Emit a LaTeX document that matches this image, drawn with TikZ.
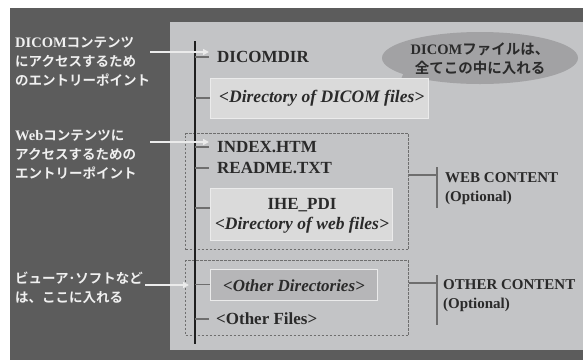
\documentclass[tikz,border=0pt]{standalone}
\usepackage{fontspec}
\setmainfont{Liberation Serif}
\newfontfamily\jp{Noto Sans CJK JP}[BoldFont={Noto Sans CJK JP Bold}]
\newcommand{\lat}[1]{{\rmfamily\bfseries\fontsize{14.5}{19}\selectfont #1}}
\usetikzlibrary{arrows.meta,shapes.geometric}
\definecolor{darkbg}{HTML}{5C5C5C}
\definecolor{panel}{HTML}{C3C4C6}
\definecolor{lightbox}{HTML}{DADADA}
\definecolor{otherbox}{HTML}{B6B6B8}
\definecolor{bubble}{HTML}{A2A2A4}
\definecolor{treetext}{HTML}{2A2A2A}
\definecolor{tick}{HTML}{6E6E6E}
\tikzset{
  lefttext/.style={anchor=north west, align=left, text=white!94!black, font=\jp\bfseries\fontsize{13.5}{19}\selectfont, inner sep=0pt},
  treeitem/.style={anchor=west, text=treetext, font=\bfseries\fontsize{17}{18}\selectfont, inner sep=0pt},
  itemital/.style={treeitem, font=\bfseries\itshape\fontsize{17.5}{18}\selectfont},
  dirbox/.style={fill=lightbox, draw=white!92!black, line width=0.6pt, inner sep=0pt},
  groupbox/.style={draw=tick, dashed, dash pattern=on 2.5pt off 1.5pt, line width=1pt},
  ticker/.style={draw=tick, line width=1.2pt},
  pointer/.style={draw=white!92!black, line width=1.6pt, -{Triangle[length=6pt,width=6pt]}},
  grouplabel/.style={anchor=north west, align=left, text=treetext, font=\bfseries\fontsize{15}{19}\selectfont, inner sep=0pt}
}
\begin{document}
\begin{tikzpicture}[x=1pt,y=-1pt]
\useasboundingbox (0,0) rectangle (583,360);
\fill[white] (0,0) rectangle (583,360);
\fill[darkbg] (10,8) rectangle (583,360);
\fill[panel] (170,22) rectangle (583,350);

% speech bubble
\coordinate (tail) at (398,86);
\fill[bubble] (405,70) -- (tail) -- (425,78) -- cycle;
\node[ellipse, fill=bubble, minimum width=196pt, minimum height=52pt, inner sep=0pt] (bubble) at (480,58) {};
\node[align=center, text=treetext, font=\jp\bfseries\fontsize{14.5}{18.5}\selectfont, inner sep=0pt] (bubbletext) at (480,59) {\lat{DICOM}ファイルは、\\全てこの中に入れる};

% group boxes
\node[groupbox, minimum width=223pt, minimum height=116pt, anchor=north west, inner sep=0pt] (webgroup) at (185,133) {};
\node[groupbox, minimum width=223pt, minimum height=75pt, anchor=north west, inner sep=0pt] (othergroup) at (185,260) {};

% directory boxes
\node[dirbox, minimum width=218pt, minimum height=40pt, anchor=north west] (dicombox) at (210,78) {};
\node[itemital, anchor=west] (dicomdirs) at (219,98) {<Directory of DICOM files>};
\node[dirbox, minimum width=182pt, minimum height=52pt, anchor=north west] (webbox) at (210,188) {};
\node[treeitem, anchor=center] (ihepdi) at (302,205) {IHE\_PDI};
\node[itemital, anchor=center] (webdirs) at (302,225) {<Directory of web files>};
\node[dirbox, fill=otherbox, minimum width=167pt, minimum height=31pt, anchor=north west] (otherbox) at (210,269) {};
\node[itemital, anchor=center, font=\itshape\bfseries\fontsize{17}{18}\selectfont] (otherdirs) at (294,286) {<Other Directories>};

% plain items
\node[treeitem] (dicomdir) at (217,57) {DICOMDIR};
\node[treeitem] (index) at (217,147) {INDEX.HTM};
\node[treeitem] (readme) at (217,168) {README.TXT};
\node[treeitem] (otherfiles) at (216,319) {<Other Files>};

% spine
\coordinate (spinetop) at (195,41);
\coordinate (spinebot) at (195,344);
\draw[line width=2.6pt, draw=black!88] (spinetop) -- (spinebot);

% ticks
\draw[ticker] (spinetop |- dicomdir.west) -- ++(14,0);
\draw[ticker] (spinetop |- dicomdirs.west) -- (dicombox.west |- dicomdirs.west);
\draw[ticker] (spinetop |- index.west) -- ++(14,0);
\draw[ticker] (spinetop |- readme.west) -- ++(14,0);
\draw[ticker] (spinetop |- 0,208) -- (webbox.west |- 0,208);
\draw[ticker] (spinetop |- otherbox.west) -- (otherbox.west);
\draw[ticker] (spinetop |- otherfiles.west) -- ++(14,0);

% group brackets
\coordinate (webbar) at (437,175);
\draw[ticker] (webgroup.east |- webbar) -- (webbar);
\draw[ticker] (437,167) -- (437,208);
\node[grouplabel] (weblabel) at (445,172) {WEB CONTENT\\(Optional)};
\coordinate (otherbar) at (437,283);
\draw[ticker] (othergroup.east |- otherbar) -- (otherbar);
\draw[ticker] (437,275) -- (437,325);
\node[grouplabel] (otherlabel) at (443,279) {OTHER CONTENT\\(Optional)};

% left annotations
\node[lefttext] (note1) at (15,37) {\lat{DICOM}コンテンツ\\にアクセスするため\\のエントリーポイント};
\node[lefttext] (note2) at (15,130) {\lat{Web}コンテンツに\\アクセスするための\\エントリーポイント};
\node[lefttext] (note3) at (15,272) {ビューア･ソフトなど\\は、ここに入れる};

\coordinate (a1s) at (150,52);
\coordinate (a1e) at (209,52);
\draw[pointer] (a1s) -- (a1e);
\coordinate (a2s) at (150,142);
\coordinate (a2e) at (209,142);
\draw[pointer] (a2s) -- (a2e);
\coordinate (a3s) at (145,285);
\coordinate (a3e) at (189,285);
\draw[pointer] (a3s) -- (a3e);
\end{tikzpicture}
\end{document}
